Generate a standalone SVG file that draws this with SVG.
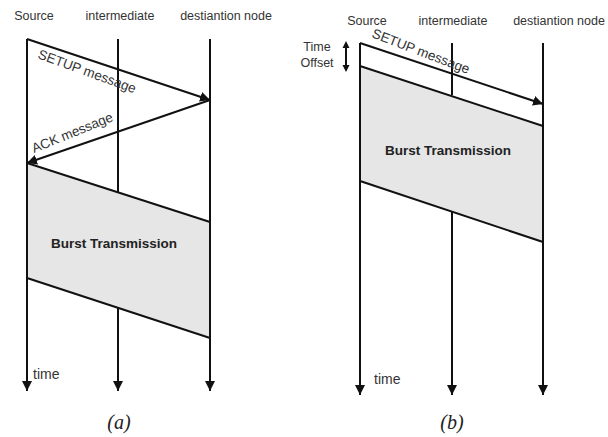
<svg xmlns="http://www.w3.org/2000/svg" width="608" height="437" viewBox="0 0 608 437">
<defs>
<marker id="ah" viewBox="0 0 10 10" refX="10" refY="5" markerWidth="5" markerHeight="5" orient="auto" markerUnits="strokeWidth"><path d="M0,0 L10,5 L0,10 z" fill="#111"/></marker>
<style>
.ln{stroke:#111;stroke-width:2;fill:none}
.ar{stroke:#111;stroke-width:2;fill:none;marker-end:url(#ah)}
.burst{fill:#e6e6e6;stroke:none}
.lbl{font-family:"Liberation Sans",Arial,sans-serif;font-size:12.5px;fill:#333}
.msg{font-family:"Liberation Sans",Arial,sans-serif;font-size:13.5px;fill:#333}
.bt{font-family:"Liberation Sans",Arial,sans-serif;font-size:13.5px;font-weight:bold;fill:#222}
.cap{font-family:"Liberation Serif","Times New Roman",serif;font-size:20px;font-style:italic;fill:#222}
</style>
</defs>
<g id="panel-a">
<g id="a-burst"><polygon class="burst" points="27,163 210,222 210,338 27,278"/><text class="bt" x="114" y="248" text-anchor="middle">Burst Transmission</text></g>
<g id="a-source"><text class="lbl" x="34" y="20" text-anchor="middle">Source</text></g>
<g id="a-intermediate"><text class="lbl" x="120" y="20" text-anchor="middle">intermediate</text></g>
<g id="a-destination"><text class="lbl" x="226" y="20" text-anchor="middle">destiantion node</text></g>
<g id="a-connectors">
<line class="ar" x1="27" y1="39" x2="27" y2="391"/>
<line class="ln" x1="118" y1="39" x2="118" y2="192"/>
<line class="ar" x1="118" y1="308" x2="118" y2="391"/>
<line class="ar" x1="210" y1="39" x2="210" y2="391"/>
<line class="ar" x1="27" y1="39" x2="210" y2="100"/>
<line class="ar" x1="210" y1="100" x2="27" y2="163"/>
<line class="ln" x1="27" y1="163" x2="210" y2="222"/>
<line class="ln" x1="27" y1="278" x2="210" y2="338"/>
</g>
<text class="msg" transform="translate(37,58) rotate(20)">SETUP message</text>
<text class="msg" transform="translate(34,153) rotate(-22)">ACK message</text>
<text class="lbl" x="33" y="379" style="font-size:14px">time</text>
<text class="cap" x="119" y="429" text-anchor="middle">(a)</text>
</g>
<g id="panel-b">
<g id="b-burst"><polygon class="burst" points="360,66 543,126 543,242 360,181"/><text class="bt" x="448" y="155" text-anchor="middle">Burst Transmission</text></g>
<g id="b-source"><text class="lbl" x="367" y="25" text-anchor="middle">Source</text></g>
<g id="b-intermediate"><text class="lbl" x="453" y="25" text-anchor="middle">intermediate</text></g>
<g id="b-destination"><text class="lbl" x="559" y="25" text-anchor="middle">destiantion node</text></g>
<g id="b-connectors">
<line class="ar" x1="360" y1="43" x2="360" y2="395"/>
<line class="ln" x1="452" y1="43" x2="452" y2="95"/>
<line class="ar" x1="452" y1="212" x2="452" y2="395"/>
<line class="ar" x1="543" y1="43" x2="543" y2="395"/>
<line class="ar" x1="360" y1="43" x2="543" y2="104"/>
<line class="ln" x1="360" y1="66" x2="543" y2="126"/>
<line class="ln" x1="360" y1="181" x2="543" y2="242"/>
<line class="ln" x1="346" y1="46" x2="346" y2="67"/>
<path d="M346,41 L342.5,48 L349.5,48 z M346,72 L342.5,65 L349.5,65 z" fill="#111"/>
</g>
<text class="msg" transform="translate(371,37) rotate(21)">SETUP message</text>
<text class="lbl" x="317" y="51" text-anchor="middle">Time</text>
<text class="lbl" x="317" y="67" text-anchor="middle">Offset</text>
<text class="lbl" x="374" y="384" style="font-size:14px">time</text>
<text class="cap" x="452" y="429" text-anchor="middle">(b)</text>
</g>
</svg>
